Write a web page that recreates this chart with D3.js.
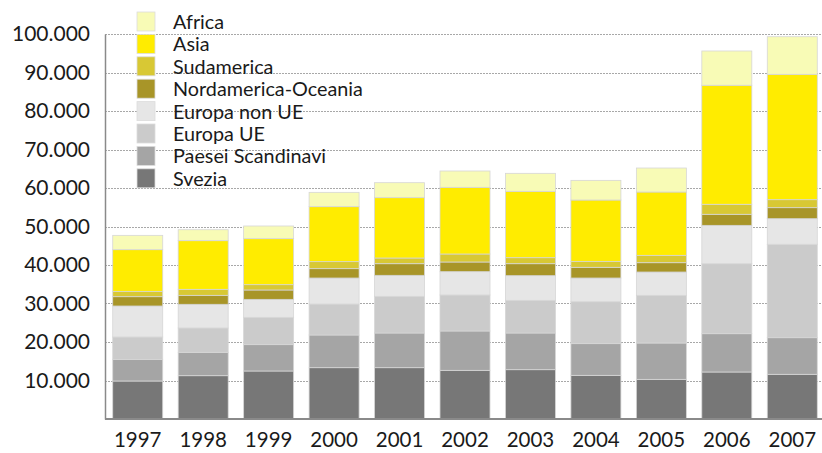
<!DOCTYPE html>
<html>
<head>
<meta charset="utf-8">
<script src="https://cdn.jsdelivr.net/npm/d3@7"></script>
<style>
  html, body { margin: 0; padding: 0; background: #ffffff; }
  svg { display: block; }
  text { font-family: Lato, "Open Sans", sans-serif; fill: #1a1a1a; }
</style>
</head>
<body>
<svg id="chart" width="822" height="453"></svg>
<script>
// Years on the x axis
const years = ["1997", "1998", "1999", "2000", "2001", "2002", "2003", "2004", "2005", "2006", "2007"];

// Stacked series, bottom to top
const seriesNames = ["Svezia", "Paesei Scandinavi", "Europa UE", "Europa non UE",
                     "Nordamerica-Oceania", "Sudamerica", "Asia", "Africa"];

const svezia      = [9870, 11250, 12470, 13330, 13330, 12640, 12810, 11340, 10300, 12210, 11610];
const scandinavi  = [5630, 6070, 6840, 8490, 9010, 10220, 9530, 8230, 9440, 9950, 9510];
const europaUE    = [5800, 6320, 7100, 8050, 9520, 9350, 8480, 10900, 12380, 18180, 24250];
const europaNonUE = [8050, 6150, 4670, 6750, 5460, 6060, 6410, 6150, 6060, 9960, 6660];
const nordamerica = [2420, 2330, 2430, 2430, 3020, 2510, 3110, 2780, 2420, 2870, 2860];
const sudamerica  = [1390, 1560, 1380, 1820, 1480, 2080, 1560, 1550, 1910, 2600, 2080];
const asia        = [10820, 12640, 11950, 14280, 15670, 17310, 17230, 15930, 16450, 30910, 32560];
const africa      = [3720, 2850, 3290, 3720, 3890, 4250, 4680, 5110, 6230, 8910, 9770];

// Y axis ticks
const yTicks = [10000, 20000, 30000, 40000, 50000, 60000, 70000, 80000, 90000, 100000];

const colors = ["#777777", "#a5a5a5", "#cbcbcb", "#e6e6e6", "#a89528", "#d8c834", "#ffec00", "#f8fbb6"];

const seriesValues = [svezia, scandinavi, europaUE, europaNonUE, nordamerica, sudamerica, asia, africa];
const rows = years.map((yr, i) => {
  const r = { year: yr };
  seriesNames.forEach((n, k) => { r[n] = seriesValues[k][i]; });
  return r;
});

const svg = d3.select("#chart");
const W = 822;
const plotLeft = 105, plotBottom = 419, plotTop = 34;

const x = d3.scaleBand().domain(years).range([plotLeft, 825]).paddingInner(0.236).paddingOuter(0.118);
const y = d3.scaleLinear().domain([0, 100000]).range([plotBottom, plotTop]);

// Dashed gridlines
svg.append("g").selectAll("line").data(yTicks).join("line")
  .attr("x1", plotLeft).attr("x2", W)
  .attr("y1", d => Math.round(y(d)) + 0.5).attr("y2", d => Math.round(y(d)) + 0.5)
  .attr("stroke", "#a8a8a8").attr("stroke-width", 1).attr("stroke-dasharray", "2,1");

// Stacked bars
const stack = d3.stack().keys(seriesNames)(rows);
svg.append("g").selectAll("g").data(stack).join("g")
  .attr("fill", (d, i) => colors[i])
  .selectAll("rect").data(d => d).join("rect")
  .attr("x", d => x(d.data.year))
  .attr("width", x.bandwidth())
  .attr("y", d => y(d[1]))
  .attr("height", d => y(d[0]) - y(d[1]))
  .attr("stroke", "#d6d6d6").attr("stroke-width", 0.8);

// Y axis
const yAxis = d3.axisLeft(y).tickValues(yTicks).tickSize(0).tickPadding(15)
  .tickFormat(d => d3.format(",")(d).replace(/,/g, "."));
const gy = svg.append("g").attr("transform", `translate(${plotLeft},0)`).call(yAxis);
gy.select(".domain").attr("stroke", "#8a8a8a").attr("stroke-width", 1.5);
gy.selectAll("text").attr("font-family", "Lato, sans-serif").attr("font-size", 21).attr("fill", "#111111");

// X axis
const xAxis = d3.axisBottom(x).tickSize(0).tickPadding(13);
const gx = svg.append("g").attr("transform", `translate(0,${plotBottom})`).call(xAxis);
gx.select(".domain").remove();
gx.append("line").attr("x1", plotLeft).attr("x2", W).attr("y1", 0).attr("y2", 0)
  .attr("stroke", "#8a8a8a").attr("stroke-width", 2);
gx.selectAll("text").attr("font-family", "Lato, sans-serif").attr("font-size", 20.5).attr("fill", "#111111");

// Legend, top to bottom in reverse stacking order
const legendItems = seriesNames.map((n, i) => ({ name: n, color: colors[i] })).reverse();
const lg = svg.append("g").selectAll("g").data(legendItems).join("g")
  .attr("transform", (d, i) => `translate(137,${12 + i * 22.4})`);
lg.append("rect").attr("width", 18).attr("height", 19)
  .attr("fill", d => d.color).attr("stroke", "#dcdcdc").attr("stroke-width", 0.8);
lg.append("text").attr("x", 36).attr("y", 17)
  .attr("font-size", 19.8).attr("fill", "#111111").text(d => d.name);
</script>
</body>
</html>
